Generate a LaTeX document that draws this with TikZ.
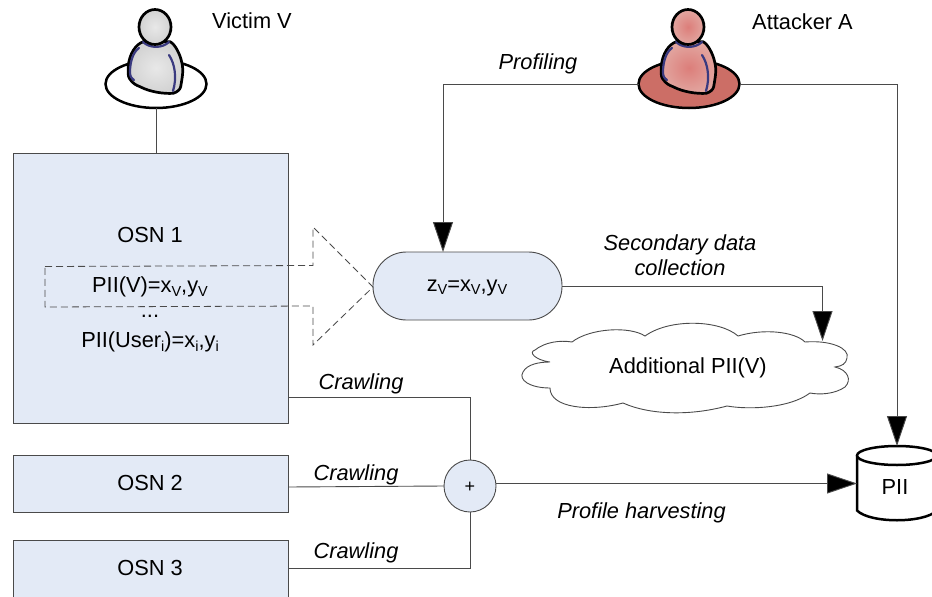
\documentclass[tikz,border=0pt]{standalone}
\usepackage{fontspec}
\setmainfont{Liberation Sans}
\usetikzlibrary{arrows.meta,shapes.geometric,shadings}
\definecolor{boxfill}{HTML}{E3EAF6}
\definecolor{edgegray}{HTML}{4A4A4A}
\definecolor{collar}{HTML}{3A3A80}
\definecolor{redground}{HTML}{CC6E66}
\definecolor{vicin}{HTML}{E8E8E8}
\definecolor{vicout}{HTML}{D2D2D2}
\definecolor{attin}{HTML}{DC7E7A}
\definecolor{attout}{HTML}{E2A6A0}
\newcommand\lowsub[1]{\raisebox{-0.3ex}{\fontsize{14.5}{15}\selectfont #1}}
\tikzset{
  x=1pt,y=-1pt,
  every node/.style={font=\fontsize{21.8}{25}\selectfont,inner sep=0pt,outer sep=0pt,align=center},
  osnbox/.style={draw=edgegray,fill=boxfill,line width=0.9pt,minimum width=275pt},
  conn/.style={draw=edgegray,line width=0.9pt},
  arrowconn/.style={conn,-{Triangle[length=30pt,width=20pt,fill=black]}},
  lbl/.style={font=\fontsize{21.8}{25}\selectfont\itshape},
  ground/.style={draw=black,line width=2.5pt,ellipse,minimum width=101pt,minimum height=48pt},
  person/.pic={
    \path[shade,inner color=#1in,outer color=#1out,draw=black,line width=2.7pt,line join=round]
      (-12.7,-42.3) .. controls (-20,-40) and (-27,-30) .. (-27.7,-17.3)
      .. controls (-28,-12) and (-28,-8) .. (-26.7,-5.7)
      .. controls (-23,0) and (-20,1) .. (-16,2.7)
      .. controls (-6,8) and (8,10) .. (17.3,9.3)
      .. controls (21,8) and (24,6) .. (24.7,2.7)
      .. controls (26,-6) and (28,-13) .. (25.7,-22)
      .. controls (24,-30) and (19,-40) .. (14,-42.3) -- cycle;
    \draw[collar,line width=2.2pt,line cap=round] (-13,-42) .. controls (-6,-35.5) and (6,-35.5) .. (13,-42);
    \draw[collar,line width=2.2pt,line cap=round] (-17,-36) .. controls (-23,-32) and (-26,-22) .. (-26,-12) .. controls (-26,-8) and (-25,-6) .. (-22,-4);
    \draw[collar,line width=2.2pt,line cap=round] (13,-29) .. controls (19,-20) and (21,-6) .. (17,7);
    \path[shade,inner color=#1in,outer color=#1out,draw=black,line width=2.7pt] (-1,-57) ellipse [x radius=16,y radius=17.5];
  }
}
\begin{document}
\begin{tikzpicture}
\useasboundingbox (0,0) rectangle (932,597);
\clip (0,0) rectangle (932,597);
\fill[white] (0,0) rectangle (932,597);

% boxes
\node[osnbox,minimum height=270pt] (osna) at (150.5,288) {};
\node[osnbox,minimum height=57pt] (osnb) at (150.5,483.5) {};
\node[osnbox,minimum height=62pt] (osnc) at (150.5,571) {};

% actors
\node[ground,fill=white] (victim) at (156,84) {};
\node[ground,fill=redground] (attacker) at (689,84) {};
\pic at (victim.center) {person=vic};
\pic at (attacker.center) {person=att};

% other nodes
\node[draw=edgegray,fill=boxfill,line width=0.9pt,rectangle,rounded corners=33.5pt,minimum width=189pt,minimum height=68pt] (zv) at (467.5,286) {};
\node[draw=edgegray,fill=boxfill,line width=0.9pt,circle,minimum size=52pt] (plus) at (470,486) {};

% cylinder
\node[minimum width=80pt,minimum height=74pt] (pii) at (897,483) {};
\draw[black,line width=2.5pt,fill=white] (pii.west |- 0,455.5) -- (pii.west |- 0,510.5)
  .. controls (870,523.5) and (924,523.5) .. (pii.east |- 0,510.5) -- (pii.east |- 0,455.5);
\draw[black,line width=2.5pt,fill=white] (897,455.5) ellipse [x radius=40,y radius=9.5];

% cloud
\draw[edgegray,line width=0.9pt,fill=white]
  (550,362) .. controls (535,360) and (528,352) .. (535,350)
  .. controls (545,342) and (560,340) .. (572,342)
  .. controls (590,328) and (630,326) .. (645,336)
  .. controls (670,318) and (720,320) .. (738,336)
  .. controls (765,328) and (795,332) .. (805,342)
  .. controls (830,340) and (850,348) .. (847,358)
  .. controls (846,364) and (842,366) .. (835,367)
  .. controls (848,370) and (852,380) .. (845,387)
  .. controls (835,394) and (820,395) .. (810,393)
  .. controls (790,408) and (750,410) .. (727,406)
  .. controls (690,416) and (650,415) .. (623,403)
  .. controls (590,412) and (550,408) .. (550,388)
  .. controls (530,388) and (518,380) .. (523,372)
  .. controls (527,364) and (540,362) .. (550,362) -- cycle;
\node (cloudlabel) at (688,368) {Additional PII(V)};
\coordinate (cloudtop) at (822.5,341);

% dashed arrow
\draw[edgegray,dashed,dash pattern=on 7pt off 4pt,line width=0.8pt]
  (45,266.5) -- (313,265.5) -- (313,227) -- (373,287) -- (313,345) -- (313,306) -- (45,307) -- cycle;

% text
\node (osnalabel) at (150,234.5) {OSN 1};
\node (piiv) at (150,287) {PII(V)=x\lowsub{V},y\lowsub{V}};
\node (dots) at (150,316) {...};
\node (piiu) at (150,342) {PII(User\lowsub{i})=x\lowsub{i},y\lowsub{i}};
\node (osnblabel) at (150,483) {OSN 2};
\node (osnclabel) at (150,568) {OSN 3};
\node (zvlabel) at (467,288) {z\lowsub{V}=x\lowsub{V},y\lowsub{V}};
\node[font=\fontsize{18}{20}\selectfont] (pluslabel) at (470,487) {+};
\node (piilabel) at (895,487) {PII};
\node (vname) at (252,21) {Victim V};
\node (aname) at (802.5,22) {Attacker A};
\node[lbl] (lprof) at (538,64) {Profiling};
\node[lbl,align=center] (lsec) at (680,255) {Secondary data\\[0pt]collection};
\node[lbl] (lc1) at (361,384) {Crawling};
\node[lbl] (lc2) at (356,475) {Crawling};
\node[lbl] (lc3) at (356,553) {Crawling};
\node[lbl] (lharv) at (641.5,513) {Profile harvesting};

% connectors
\draw[conn] (victim.south) -- (victim.south |- osna.north);
\draw[arrowconn] (attacker.west) -| (zv.north -| 443,0);
\draw[arrowconn] (attacker.east) -| (pii.north);
\draw[arrowconn] (zv.east) -| (cloudtop);
\draw[conn] (osna.east |- 0,397.5) -| (plus.north);
\draw[conn] (osnb.east |- 0,487) -- (plus.west);
\draw[conn] (osnc.east |- 0,568) -| (plus.south);
\draw[arrowconn] (plus.east |- 0,483.5) -- (pii.west |- 0,483.5);
\end{tikzpicture}
\end{document}
